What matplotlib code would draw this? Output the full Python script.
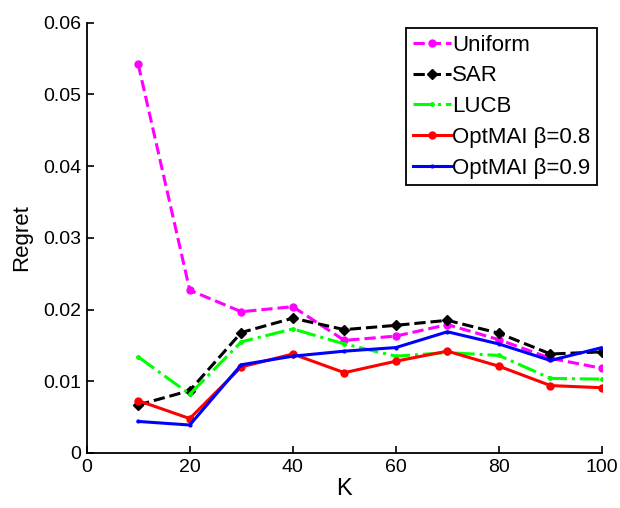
import matplotlib
matplotlib.use("Agg")
import matplotlib.pyplot as plt

plt.rcParams['font.family'] = ['Liberation Sans', 'DejaVu Sans']

# K values
K = [10, 20, 30, 40, 50, 60, 70, 80, 90, 100]

# regret per method
uniform = [0.0542, 0.0227, 0.0197, 0.0204, 0.0157, 0.0163, 0.0179, 0.0158, 0.0132, 0.0118]
sar = [0.0067, 0.0087, 0.0168, 0.0188, 0.0172, 0.0178, 0.0185, 0.0167, 0.0138, 0.0141]
lucb = [0.0134, 0.0082, 0.0155, 0.0173, 0.0152, 0.0135, 0.0140, 0.0136, 0.0104, 0.0103]
optmai_08 = [0.0073, 0.0048, 0.0120, 0.0138, 0.0112, 0.0128, 0.0142, 0.0121, 0.0094, 0.0091]
optmai_09 = [0.0044, 0.0039, 0.0123, 0.0135, 0.0142, 0.0147, 0.0169, 0.0152, 0.0129, 0.0147]

labels = ['Uniform', 'SAR', 'LUCB', 'OptMAI β=0.8', 'OptMAI β=0.9']
xticks = [0, 20, 40, 60, 80, 100]
yticks = [0, 0.01, 0.02, 0.03, 0.04, 0.05, 0.06]
ytick_labels = ['0', '0.01', '0.02', '0.03', '0.04', '0.05', '0.06']

fig = plt.figure(figsize=(6.2, 5.08), dpi=100)
ax = fig.add_axes([0.1398, 0.1083, 0.8312, 0.847])

lw = 2.2
ax.plot(K, uniform, '--', color='#ff00ff', lw=lw, marker='o', ms=5, label=labels[0])
ax.plot(K, sar, '--', color='black', lw=lw, marker='D', ms=5, label=labels[1])
ax.plot(K, lucb, '-.', color='#00ff00', lw=lw, marker='.', ms=5, label=labels[2])
ax.plot(K, optmai_08, '-', color='red', lw=lw, marker='o', ms=5, label=labels[3])
ax.plot(K, optmai_09, '-', color='blue', lw=lw, marker='.', ms=4, label=labels[4])

ax.set_xlim(0, 100)
ax.set_ylim(0, 0.06)
ax.set_xticks(xticks)
ax.set_yticks(yticks)
ax.set_yticklabels(ytick_labels)
ax.tick_params(direction='in', labelsize=14, length=5, width=1.2, pad=4)
for s in ['top', 'right']:
    ax.spines[s].set_visible(False)
for s in ['left', 'bottom']:
    ax.spines[s].set_linewidth(1.3)
ax.set_xlabel('K', fontsize=17, labelpad=2)
ax.set_ylabel('Regret', fontsize=16, labelpad=8)

leg = ax.legend(loc='upper right', bbox_to_anchor=(0.990, 0.988), fontsize=16,
                frameon=True, fancybox=False, edgecolor='black', framealpha=1,
                handlelength=1.7, handletextpad=0.05, borderpad=0.3,
                labelspacing=0.44, borderaxespad=0)
leg.get_frame().set_linewidth(1.3)

fig.savefig('out.png', dpi=100)
